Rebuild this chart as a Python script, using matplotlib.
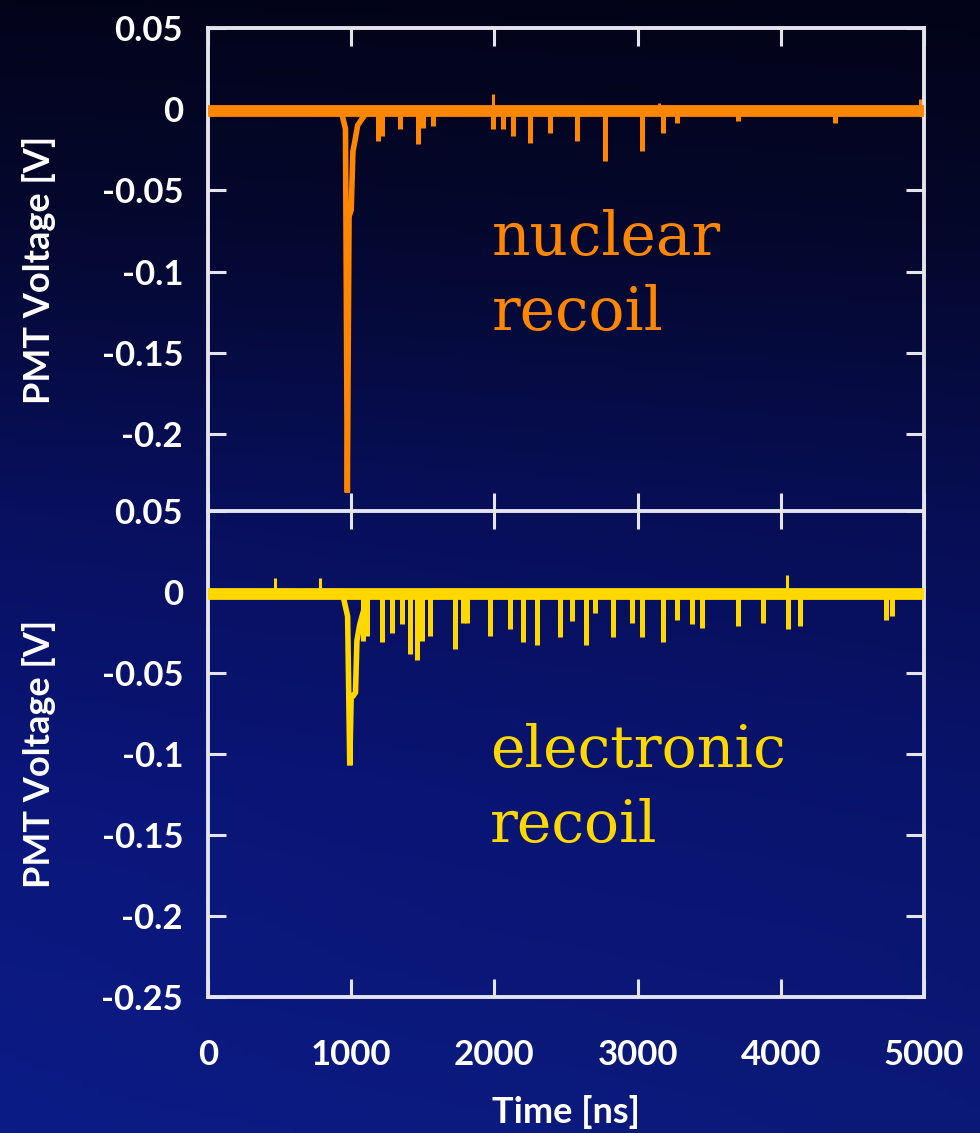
import matplotlib
matplotlib.use("Agg")
import matplotlib.pyplot as plt
import numpy as np

# ---------------- data ----------------
x_ticks = [0, 1000, 2000, 3000, 4000, 5000]
x_tick_labels = ["0", "1000", "2000", "3000", "4000", "5000"]
y_ticks = [0.05, 0, -0.05, -0.1, -0.15, -0.2, -0.25]
y_tick_labels = ["0.05", "0", "-0.05", "-0.1", "-0.15", "-0.2", "-0.25"]

# nuclear recoil (top panel)
nr_base_t = [0, 5000]
nr_base_v = [-0.0012, -0.0012]
nr_pulse_t = [930, 960, 973, 985, 1000, 1012, 1025, 1045, 1075, 1110]
nr_pulse_v = [-0.0012, -0.012, -0.236, -0.066, -0.062, -0.026, -0.020, -0.010, -0.006, -0.002]
nr_spike_t = [1186, 1214, 1340, 1465, 1500, 1570, 1989, 2059, 2128, 2247, 2387, 2575,
              2770, 3029, 3175, 3273, 3699, 4375]
nr_spike_v = [-0.0197, -0.0166, -0.0123, -0.0216, -0.0117, -0.0105, -0.0123, -0.0123,
              -0.0166, -0.0209, -0.0148, -0.0197, -0.032, -0.0259, -0.0148, -0.0086,
              -0.0074, -0.0086]
nr_bump_t = [1989, 3150, 4970]
nr_bump_v = [0.0092, 0.004, 0.006]

# electronic recoil (bottom panel)
er_base_t = [0, 5000]
er_base_v = [-0.0012, -0.0012]
er_pulse_t = [940, 975, 990, 1000, 1015, 1030, 1040, 1060, 1085, 1110]
er_pulse_v = [-0.0012, -0.015, -0.107, -0.064, -0.064, -0.062, -0.030, -0.020, -0.012, -0.004]
er_spike_t = [1082, 1110, 1214, 1284, 1354, 1410, 1458, 1493, 1549, 1724, 1780, 1807,
              1968, 2108, 2198, 2296, 2456, 2540, 2638, 2701, 2826, 2959, 3029, 3175,
              3273, 3378, 3447, 3699, 3873, 4047, 4131, 4738, 4780]
er_spike_v = [-0.030, -0.027, -0.031, -0.025, -0.020, -0.038, -0.042, -0.030, -0.027,
              -0.035, -0.019, -0.019, -0.027, -0.023, -0.031, -0.033, -0.028, -0.018,
              -0.033, -0.013, -0.028, -0.019, -0.028, -0.031, -0.017, -0.020, -0.022,
              -0.021, -0.019, -0.023, -0.021, -0.017, -0.015]
er_bump_t = [468, 782, 4040]
er_bump_v = [0.0086, 0.0086, 0.0105]

# ---------------- style ----------------
ORANGE = "#ff8600"
YELLOW = "#ffd800"
SPINE = "#e4e4ec"
FONT = "Lato"

W, H = 980, 1133
fig = plt.figure(figsize=(W / 100, H / 100), dpi=100)
fig.patch.set_facecolor("#070b40")

# background gradient
bg = fig.add_axes([0, 0, 1, 1], zorder=-10)
stops_pos = [0.0, 0.2, 0.45, 0.7, 1.0]
stops_col = np.array([[3, 4, 26], [5, 8, 48], [8, 16, 95], [10, 22, 122], [12, 28, 135]]) / 255.0
yy = np.linspace(0, 1, 300)
grad = np.stack([np.interp(yy, stops_pos, stops_col[:, k]) for k in range(3)], axis=1)
xx = np.linspace(0, 1, 60)
img = grad[:, None, :] * (1.0 - 0.12 * xx[None, :, None])
bg.imshow(img, aspect="auto", extent=[0, 1, 0, 1], origin="upper")
bg.set_axis_off()

left = 208 / W
width = (924 - 208) / W


def fy(py):
    return 1 - py / H


ax1 = fig.add_axes([left, fy(511), width, fy(28) - fy(511)])
ax2 = fig.add_axes([left, fy(997), width, fy(511) - fy(997)])


def style(ax, ylim, yt, ytl, show_x):
    ax.set_facecolor("none")
    ax.set_xlim(0, 5000)
    ax.set_ylim(*ylim)
    ax.set_xticks(x_ticks)
    ax.set_xticklabels(x_tick_labels)
    ax.set_yticks(yt)
    ax.set_yticklabels(ytl)
    for s in ax.spines.values():
        s.set_color(SPINE)
        s.set_linewidth(2.8)
    ax.tick_params(direction="in", length=13, width=2.2, color=SPINE,
                   top=True, right=True, labelcolor="white", labelsize=25)
    ax.tick_params(axis="y", pad=18)
    ax.tick_params(axis="x", pad=30, labelbottom=show_x)
    for lab in ax.get_xticklabels() + ax.get_yticklabels():
        lab.set_fontfamily(FONT)
        lab.set_fontweight("bold")


style(ax1, (-0.2474, 0.05), y_ticks[:-1], y_tick_labels[:-1], False)
style(ax2, (-0.25, 0.05), y_ticks, y_tick_labels, True)
ax1.spines["bottom"].set_visible(False)


def draw_trace(ax, color, bt, bv, pt, pv, st, sv, ut, uv):
    base = bv[0]
    ax.plot(bt, bv, color=color, lw=8.5, solid_capstyle="butt", zorder=3)
    ax.vlines(st, base, sv, color=color, lw=3.6, zorder=3)
    ax.vlines(ut, base, uv, color=color, lw=2.2, zorder=3)
    ax.plot(pt, pv, color=color, lw=4, solid_joinstyle="miter", zorder=4)


draw_trace(ax1, ORANGE, nr_base_t, nr_base_v, nr_pulse_t, nr_pulse_v,
           nr_spike_t, nr_spike_v, nr_bump_t, nr_bump_v)
draw_trace(ax2, YELLOW, er_base_t, er_base_v, er_pulse_t, er_pulse_v,
           er_spike_t, er_spike_v, er_bump_t, er_bump_v)

# axis labels
for cy in [(28 + 511) / 2, (511 + 997) / 2]:
    fig.text(39 / W, fy(cy), "PMT Voltage [V]", rotation=90, ha="center", va="center",
             color="white", fontsize=26, fontfamily=FONT, fontweight="bold")
fig.text(566 / W, fy(1123), "Time [ns]", ha="center", va="baseline",
         color="white", fontsize=26, fontfamily=FONT, fontweight="bold")

# annotations
fig.text(492 / W, fy(255), "nuclear", ha="left", va="baseline", color=ORANGE,
         fontsize=43, fontfamily="DejaVu Serif")
fig.text(492 / W, fy(330), "recoil", ha="left", va="baseline", color=ORANGE,
         fontsize=43, fontfamily="DejaVu Serif")
fig.text(490 / W, fy(767), "electronic", ha="left", va="baseline", color=YELLOW,
         fontsize=42, fontfamily="DejaVu Serif")
fig.text(490 / W, fy(842), "recoil", ha="left", va="baseline", color=YELLOW,
         fontsize=42, fontfamily="DejaVu Serif")

fig.savefig("out.png", dpi=100, facecolor=fig.get_facecolor())
